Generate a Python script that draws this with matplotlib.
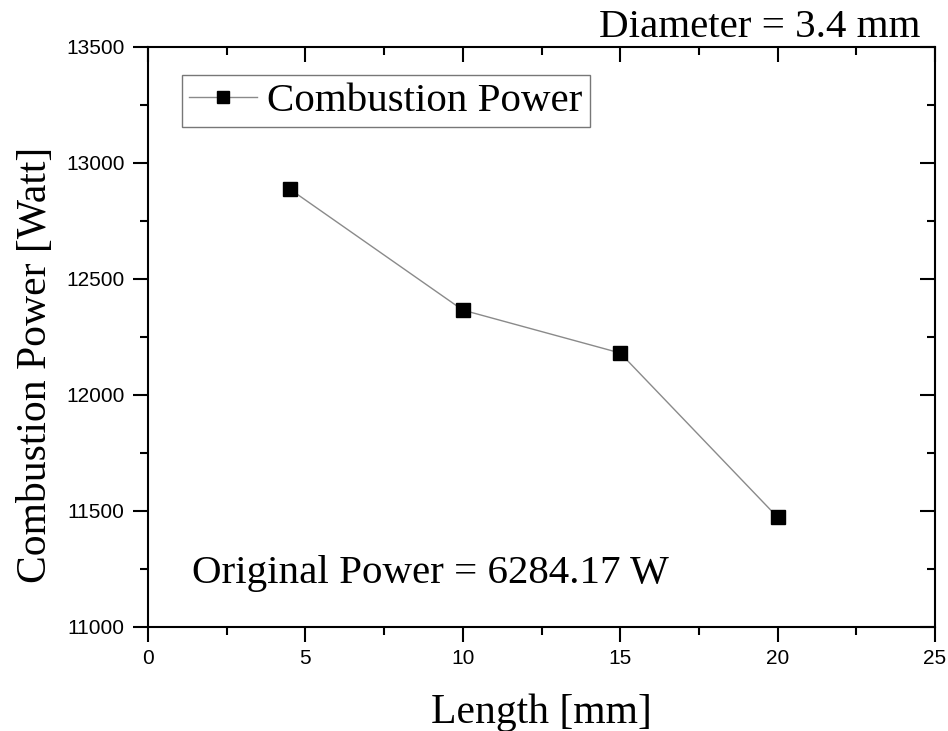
import numpy as np
import matplotlib
matplotlib.use('Agg')  # sin GUI
import matplotlib.pyplot as plt
from matplotlib.ticker import MultipleLocator

# datos
length_mm = [4.5, 10, 15, 20]
power_w = [12888, 12366, 12181, 11473]
x_ticks = [0, 5, 10, 15, 20, 25]
y_ticks = [11000, 11500, 12000, 12500, 13000, 13500]

serif = ['Liberation Serif', 'DejaVu Serif']
sans = ['Liberation Sans', 'DejaVu Sans']

fig = plt.figure(figsize=(9.48, 7.31), dpi=100)
ax = fig.add_axes([148/948, 1 - 627/731, 787/948, 580/731])

ax.plot(length_mm, power_w, color='#8a8a8a', linewidth=1.0,
        marker='s', markersize=9.5, markerfacecolor='black',
        markeredgecolor='black', label='Combustion Power')

ax.set_xlim(0, 25)
ax.set_ylim(11000, 13500)
ax.set_xticks(x_ticks)
ax.set_yticks(y_ticks)
ax.xaxis.set_minor_locator(MultipleLocator(2.5))
ax.yaxis.set_minor_locator(MultipleLocator(250))

for s in ax.spines.values():
    s.set_linewidth(1.5)

ax.tick_params(which='both', bottom=True, left=True, top=True, right=True,
               width=1.5, direction='out')
ax.tick_params(which='major', length=11, labelsize=15)
ax.tick_params(which='minor', length=6)
ax.tick_params(axis='x', which='major', pad=5)
ax.tick_params(axis='y', which='major', pad=6)
for lab in ax.get_xticklabels() + ax.get_yticklabels():
    lab.set_family(sans)

# estilo Origin: abajo/izquierda hacia fuera, arriba/derecha hacia dentro
for t in ax.xaxis.get_major_ticks() + ax.xaxis.get_minor_ticks():
    t.tick2line.set_marker(matplotlib.lines.TICKDOWN)
for t in ax.yaxis.get_major_ticks() + ax.yaxis.get_minor_ticks():
    t.tick2line.set_marker(matplotlib.lines.TICKLEFT)

ax.set_xlabel('Length [mm]', fontsize=30, family=serif, labelpad=18)
ax.set_ylabel('Combustion Power [Watt]', fontsize=30, family=serif)
ax.yaxis.set_label_coords(-0.118, 0.452)

ax.text(0.056, 0.076, 'Original Power = 6284.17 W', transform=ax.transAxes,
        fontsize=29.5, family=serif, va='baseline', ha='left')
ax.text(0.981, 1.017, 'Diameter = 3.4 mm', transform=ax.transAxes,
        fontsize=29.5, family=serif, va='baseline', ha='right')

leg = ax.legend(loc='upper left', bbox_to_anchor=(0.043, 0.952),
                borderaxespad=0, fancybox=False, edgecolor='#777777',
                prop={'family': serif, 'size': 29.5}, handlelength=1.65,
                handletextpad=0.25, borderpad=0.18, framealpha=1,
                markerscale=0.9)
leg.get_frame().set_linewidth(1.0)

plt.savefig('out.png', dpi=100)
plt.close()
